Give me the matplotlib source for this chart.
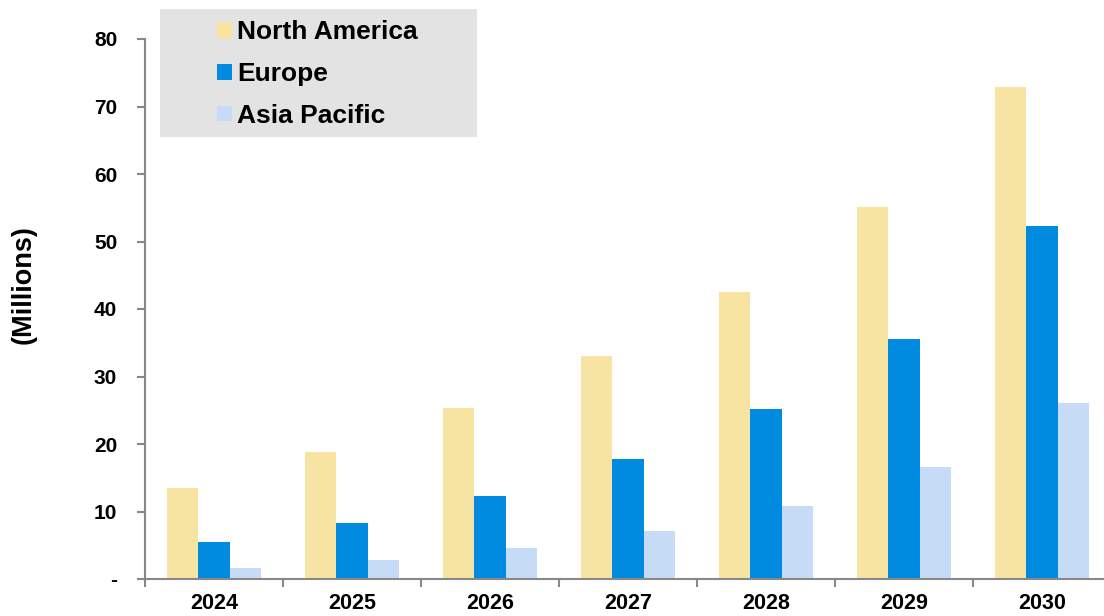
import numpy as np
import matplotlib.pyplot as plt
from matplotlib.patches import Rectangle

plt.rcParams['font.family'] = ['Liberation Sans', 'DejaVu Sans']
plt.rcParams['font.weight'] = 'bold'

years = ['2024', '2025', '2026', '2027', '2028', '2029', '2030']
north_america = [13.5, 18.8, 25.3, 33.0, 42.5, 55.1, 72.9]
europe = [5.5, 8.3, 12.3, 17.8, 25.2, 35.5, 52.3]
asia_pacific = [1.6, 2.8, 4.6, 7.1, 10.8, 16.6, 26.1]

series = ['North America', 'Europe', 'Asia Pacific']
colors = ['#F7E4A2', '#008BE0', '#C6DBF5']

fig = plt.figure(figsize=(11.04, 6.16), dpi=100)
ax = fig.add_axes([145 / 1104, 1 - 579 / 616, 966 / 1104, 540 / 616])

x = np.arange(len(years))
w = 0.225
for i, (vals, name, c) in enumerate(zip([north_america, europe, asia_pacific], series, colors)):
    ax.bar(x + (i - 1) * w, vals, w, color=c, label=name, linewidth=0)

ax.set_xlim(-0.5, len(years) - 0.5)
ax.set_ylim(0, 80)
ax.set_yticks(range(0, 81, 10))
ax.set_yticklabels(['-'] + [str(v) for v in range(10, 81, 10)], fontsize=15, fontweight='bold')
ax.set_xticks(x)
ax.set_xticklabels(years, fontsize=15.5, fontweight='bold')
ax.set_xticks(np.arange(-0.5, len(years), 1), minor=True)
ax.tick_params(axis='x', which='major', length=0, pad=10)
ax.tick_params(axis='x', which='minor', length=6, color='#888888', width=1.5)
ax.tick_params(axis='y', length=6, color='#888888', width=1.5, pad=14)

for s in ['top', 'right']:
    ax.spines[s].set_visible(False)
for s in ['left', 'bottom']:
    ax.spines[s].set_color('#888888')
    ax.spines[s].set_linewidth(1.5)

fig.text(24 / 1104, 1 - 285 / 616, '(Millions)', rotation=90, ha='center', va='center',
         fontsize=19.5, fontweight='bold')

# legend box
fig.patches.append(Rectangle((160 / 1104, 1 - 137 / 616), 317 / 1104, 128 / 616,
                             transform=fig.transFigure, facecolor='#E3E3E3',
                             edgecolor='none', zorder=0))
fig.legend(loc='upper left', bbox_to_anchor=(199 / 1104, 1 - 2 / 616), frameon=False,
           prop={'size': 19, 'weight': 'bold'}, handlelength=0.55, handleheight=0.55,
           handletextpad=0.2, labelspacing=0.67, borderpad=0.2)

fig.savefig('out.png', dpi=100)
